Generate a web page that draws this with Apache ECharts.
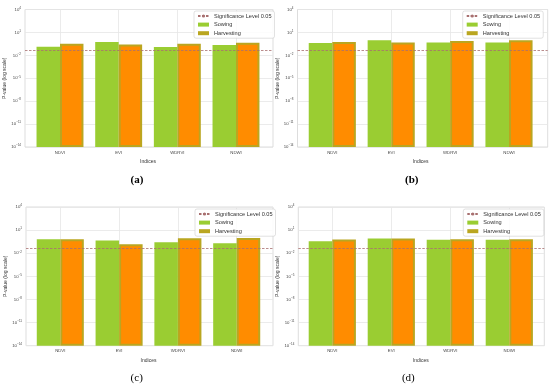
<!DOCTYPE html>
<html><head><meta charset="utf-8">
<script src="https://cdn.jsdelivr.net/npm/echarts@6/dist/echarts.min.js"></script>
<style>html,body{margin:0;padding:0;background:#fff}#c{width:550px;height:387px}</style>
</head><body><div id="c"></div>
<script>
const categories = ['NDVI', 'EVI', 'WDRVI', 'NDWI'];
const sowingA = [0.13, 0.54, 0.12, 0.23];
const harvestA = [0.32, 0.27, 0.32, 0.44];
const sowingB = [0.40, 0.97, 0.49, 0.49];
const harvestB = [0.54, 0.49, 0.74, 0.91];
const sowingC = [0.67, 0.45, 0.27, 0.20];
const harvestC = [0.67, 0.15, 0.91, 0.95];
const sowingD = [0.37, 0.82, 0.55, 0.55];
const harvestD = [0.61, 0.82, 0.67, 0.67];
const threshold = 0.05;
const yMin = 1e-14, yMax = 1e4;
const captions = ['(a)', '(b)', '(c)', '(d)'];
const seriesNames = ['Significance Level 0.05', 'Sowing', 'Harvesting'];

const FONT = 'Liberation Sans, Arial, sans-serif';
const SOW = '#9ACD32', ORANGE = '#FF8C00', OLIVE = '#BAA620', DASH = '#a87070';

const panels = [
  {sow: sowingA, harv: harvestA, L: 25, R: 273, T: 9.5, B: 147, c0: 60, c3: 236, lg: [194, 11], cap: [137, 180, 'bold']},
  {sow: sowingB, harv: harvestB, L: 297.5, R: 547.7, T: 9.5, B: 147, c0: 332.3, c3: 509, lg: [462.7, 11], cap: [411.7, 180, 'bold']},
  {sow: sowingC, harv: harvestC, L: 26, R: 273, T: 207, B: 345.7, c0: 60.3, c3: 236.7, lg: [195, 209], cap: [136.7, 378, 'normal']},
  {sow: sowingD, harv: harvestD, L: 298.3, R: 544.3, T: 207, B: 345.7, c0: 332.3, c3: 509.3, lg: [463.3, 209], cap: [408.3, 378, 'normal']}
];

const grid = [], xAxis = [], yAxis = [], series = [], legend = [], graphic = [];
panels.forEach((p, i) => {
  const s = (p.c3 - p.c0) / 3;
  const gA = 2 * i, gB = 2 * i + 1;
  grid.push({left: p.L, top: p.T, width: p.R - p.L, height: p.B - p.T, show: true,
    borderColor: '#d4d4d4', borderWidth: 0.8, backgroundColor: '#fff', containLabel: false});
  grid.push({left: p.c0 - s / 2, top: p.T, width: 4 * s, height: p.B - p.T, containLabel: false});
  xAxis.push({type: 'value', gridIndex: gA, min: 0, max: 1, show: false});
  xAxis.push({type: 'category', gridIndex: gB, data: categories,
    axisLine: {show: false}, axisTick: {show: false, alignWithLabel: true},
    splitLine: {show: true, alignWithLabel: true, lineStyle: {color: '#e6e6e6', width: 0.8}},
    axisLabel: {fontSize: 4.3, color: '#444', margin: 3.5, fontFamily: FONT},
    name: 'Indices', nameLocation: 'middle', nameGap: 12,
    nameTextStyle: {fontSize: 5, color: '#333', fontFamily: FONT}});
  yAxis.push({type: 'log', logBase: 10, gridIndex: gA, min: yMin, max: yMax, interval: 3,
    axisLine: {show: false}, axisTick: {show: false},
    splitLine: {show: true, lineStyle: {color: '#e6e6e6', width: 0.8}},
    axisLabel: {margin: 4, color: '#444', fontFamily: FONT,
      formatter: v => {
        const e = Math.round(Math.log10(v));
        return '{b|10}{e|' + (e < 0 ? '\u2212' : '') + Math.abs(e) + '}';
      },
      rich: {b: {fontSize: 4.3, color: '#444', fontFamily: FONT},
             e: {fontSize: 3, color: '#444', fontFamily: FONT, verticalAlign: 'top', padding: [0, 0, 3, 0]}}},
    name: 'P-value (log scale)', nameLocation: 'middle', nameGap: 14, nameRotate: 90,
    nameTextStyle: {fontSize: 5, color: '#333', fontFamily: FONT}});
  yAxis.push({type: 'log', logBase: 10, gridIndex: gB, min: yMin, max: yMax, startValue: yMin, show: false});

  series.push({type: 'line', name: seriesNames[0], xAxisIndex: gA, yAxisIndex: gA, data: [],
    symbol: 'none', silent: true, itemStyle: {color: DASH},
    lineStyle: {color: DASH, type: [2.5, 1.5], width: 0.8},
    markLine: {silent: true, symbol: 'none', label: {show: false}, z: 6,
      lineStyle: {color: DASH, type: [2.5, 1.5], width: 0.8},
      data: [{yAxis: threshold}]}});
  series.push({type: 'bar', name: seriesNames[1], xAxisIndex: gB, yAxisIndex: gB, data: p.sow,
    barWidth: '40%', barGap: '0%', itemStyle: {color: SOW}});
  series.push({type: 'bar', name: seriesNames[2], xAxisIndex: gB, yAxisIndex: gB, data: p.harv,
    barWidth: '40%', barGap: '0%', itemStyle: {color: ORANGE, borderColor: OLIVE, borderWidth: 2}});

  legend.push({orient: 'vertical', left: p.lg[0], top: p.lg[1], padding: [2, 3, 2, 3],
    itemGap: 2.6, itemWidth: 11, itemHeight: 4, selectedMode: false,
    borderColor: '#cccccc', borderWidth: 0.6, borderRadius: 2, backgroundColor: 'rgba(255,255,255,0.85)',
    textStyle: {fontSize: 5.6, color: '#333', fontFamily: FONT, lineHeight: 5.5},
    data: [{name: seriesNames[0]},
           {name: seriesNames[1], icon: 'rect', itemStyle: {color: SOW}},
           {name: seriesNames[2], icon: 'rect', itemStyle: {color: OLIVE, borderWidth: 0}}]});

  graphic.push({type: 'text', x: p.cap[0], y: p.cap[1], style: {text: captions[i],
    font: p.cap[2] + ' 11px "Liberation Serif", "Times New Roman", serif', fill: '#000',
    textAlign: 'center', textVerticalAlign: 'middle'}});
});

const chart = echarts.init(document.getElementById('c'), null, {renderer: 'canvas'});
chart.setOption({animation: false, backgroundColor: '#fff', grid, xAxis, yAxis, series, legend, graphic});
</script></body></html>
